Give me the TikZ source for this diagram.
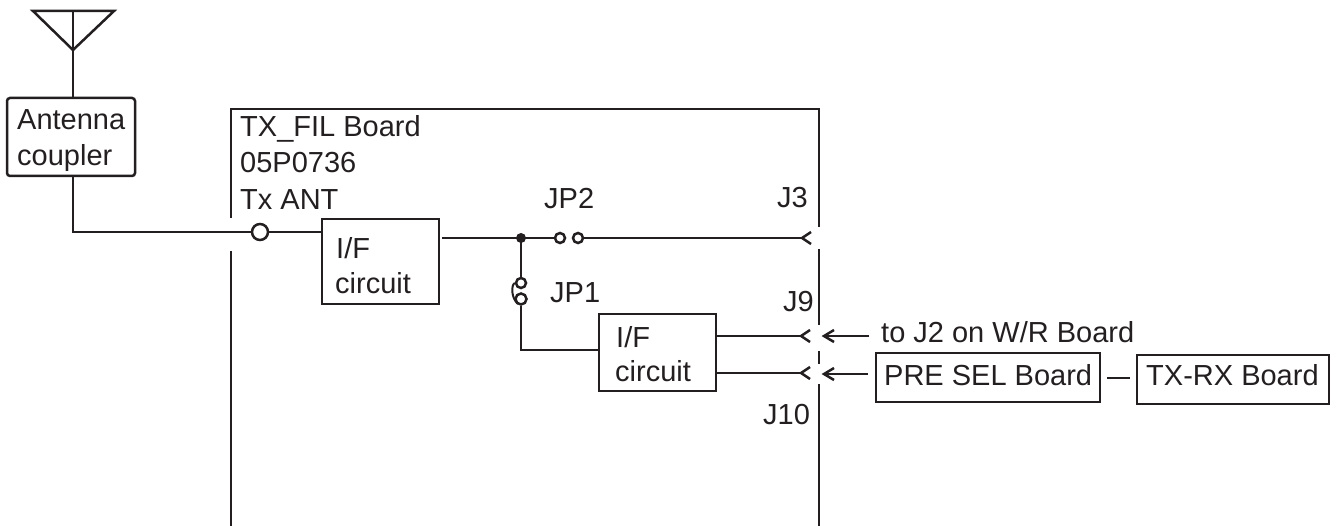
\documentclass[tikz,border=0pt]{standalone}
\usepackage{fontspec}
\setmainfont{Liberation Sans}
\definecolor{ink}{HTML}{231F20}
\tikzset{
  wire/.style={draw=ink,line width=2.5pt},
  edge/.style={draw=ink,line width=2.5pt},
  lbl/.style={text=ink,font=\fontsize{29}{33}\selectfont,inner sep=0pt,anchor=base west},
  block/.style={draw=ink,line width=2.5pt,inner sep=0pt,outer sep=0pt,anchor=north west},
  term/.style={circle,draw=ink,line width=2.5pt,fill=white,inner sep=0pt},
  jdot/.style={circle,fill=ink,inner sep=0pt,minimum size=10pt},
}
\begin{document}
\begin{tikzpicture}[x=1pt,y=-1pt]
\useasboundingbox (0,0) rectangle (1337,526);
% antenna
\coordinate (apex) at (73,50);
\coordinate (atop) at (73,11);
\draw[wire,line join=miter] (33,11) -- (114,11) -- (apex) -- cycle;
\node[block,rounded corners=3pt,minimum width=128pt,minimum height=78pt] (coupler) at (7,98) {};
\node[lbl] at (17,130) {Antenna};
\node[lbl] at (17,166) {coupler};
\draw[wire] (atop) -- (coupler.north -| atop);
% board outline
\coordinate (bl1) at (231,526);
\coordinate (bl2) at (231,251);
\coordinate (bl3) at (231,218);
\coordinate (btl) at (231,109);
\coordinate (btr) at (819,109);
\draw[edge] (bl1) -- (bl2);
\draw[edge] (bl3) -- (btl) -- (btr) -- (819,227);
\draw[edge] (819,249) -- (819,325);
\draw[edge] (819,351) -- (819,364);
\draw[edge] (819,384) -- (819,526);
\node[lbl] at (240,137) {TX\_FIL Board};
\node[lbl] at (240,173) {05P0736};
\node[lbl] at (240,210) {Tx ANT};
\node[lbl] at (544,209) {JP2};
\node[lbl] at (777,208) {J3};
\node[lbl] at (550,302) {JP1};
\node[lbl] at (783,311) {J9};
\node[lbl] at (763,424) {J10};
% blocks
\node[block,minimum width=117pt,minimum height=85pt] (if1) at (322,219) {};
\node[lbl] at (336,259) {I/F};
\node[lbl] at (335,294) {circuit};
\node[block,minimum width=117pt,minimum height=77pt] (if2) at (599,314) {};
\node[lbl] at (616,347) {I/F};
\node[lbl] at (615,381) {circuit};
\node[block,minimum width=224pt,minimum height=49pt] (presel) at (876,353) {};
\node[lbl] at (884,385) {PRE SEL Board};
\node[block,minimum width=192pt,minimum height=49pt] (txrx) at (1137,355) {};
\node[lbl] at (1146,385) {TX-RX Board};
\node[lbl] at (881,342) {to J2 on W/R Board};
% antenna path
\node[term,minimum size=16pt] (tant) at (260,232) {};
\draw[wire] (coupler.south -| apex) -- (73,232) -- (tant);
\draw[wire] (tant) -- (if1.west |- tant);
% jumpers
\coordinate (j) at (521,238);
\coordinate (ifout) at (442,238);
\node[term,minimum size=10pt] (jp2a) at (560,238) {};
\node[term,minimum size=10pt] (jp2b) at (578,238) {};
\node[term,minimum size=10pt] (jp1a) at (521,283) {};
\node[term,minimum size=11pt] (jp1b) at (521,299) {};
\coordinate (j3) at (802,238);
\coordinate (j9) at (801,336);
\coordinate (j10) at (801,373);
\draw[wire] (ifout) -- (jp2a);
\draw[wire] (jp2b) -- (j3);
\draw[wire] (j) -- (jp1a);
\draw[wire] (jp1b) -- (521,350) -- (if2.west |- 521,350);
\draw[draw=ink,line width=2pt] (jp1a.west) .. controls (511,285) and (511,298) .. (518,304);
\node[jdot] (jd) at (j) {};
% connectors
\draw[wire] (if2.east |- j9) -- (j9);
\draw[wire] (if2.east |- j10) -- (j10);
\draw[wire] (811,232) -- (j3) -- (811,244);
\draw[wire] (810,330) -- (j9) -- (810,342);
\draw[wire] (810,367) -- (j10) -- (810,379);
\coordinate (e9) at (869,336);
\coordinate (e10) at (868,374);
\coordinate (t9) at (824,336);
\coordinate (t10) at (824,374);
\draw[wire] (e9) -- (t9);
\draw[wire] (834,330) -- (t9) -- (834,342);
\draw[wire] (e10) -- (t10);
\draw[wire] (834,368) -- (t10) -- (834,380);
\coordinate (d1) at (1107,378);
\coordinate (d2) at (1130,378);
\draw[wire] (d1) -- (d2);
\end{tikzpicture}
\end{document}
